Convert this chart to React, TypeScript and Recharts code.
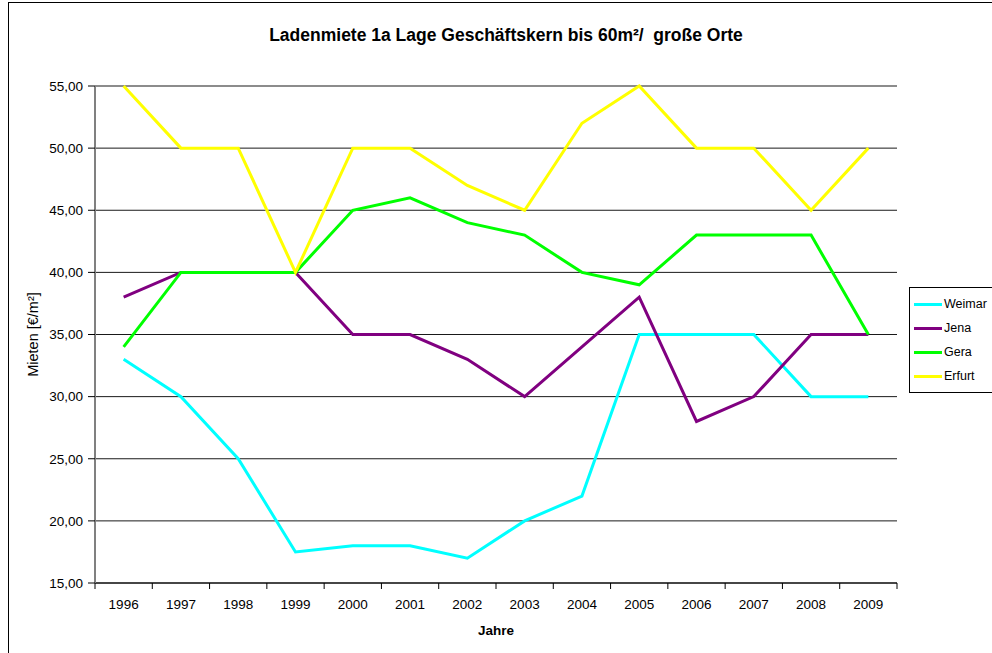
import React from 'react';
import {
    LineChart,
    Line,
    XAxis,
    YAxis,
    CartesianGrid,
    Legend,
    Label,
} from 'recharts';

// Jahre und Mieten (€/m²) je Ort
const YEARS = ['1996', '1997', '1998', '1999', '2000', '2001', '2002', '2003', '2004', '2005', '2006', '2007', '2008', '2009'];
const WEIMAR = [33, 30, 25, 17.5, 18, 18, 17, 20, 22, 35, 35, 35, 30, 30];
const JENA = [38, 40, 40, 40, 35, 35, 33, 30, 34, 38, 28, 30, 35, 35];
const GERA = [34, 40, 40, 40, 45, 46, 44, 43, 40, 39, 43, 43, 43, 35];
const ERFURT = [55, 50, 50, 40, 50, 50, 47, 45, 52, 55, 50, 50, 45, 50];
const Y_TICKS = [15, 20, 25, 30, 35, 40, 45, 50, 55];

const TITLE = 'Ladenmiete 1a Lage Geschäftskern bis 60m²/  große Orte';

const SERIES = [
    { key: 'Weimar', color: '#00FFFF' },
    { key: 'Jena', color: '#800080' },
    { key: 'Gera', color: '#00FF00' },
    { key: 'Erfurt', color: '#FFFF00' },
];

const data = YEARS.map((year, i) => ({
    year,
    Weimar: WEIMAR[i],
    Jena: JENA[i],
    Gera: GERA[i],
    Erfurt: ERFURT[i],
}));

const FONT = '"Liberation Sans", Arial, sans-serif';
const PLOT_LEFT = 95;
const PLOT_RIGHT = 897;
const BAND = (PLOT_RIGHT - PLOT_LEFT) / YEARS.length;

const fmt = (v: number) => v.toFixed(2).replace('.', ',');

// Excel-artige Ticks zwischen den Kategorien
const YearTick = (props: any) => {
    const { x, y, payload, index } = props;
    const half = BAND / 2;
    return (
        <g>
            <line x1={x - half} x2={x - half} y1={y} y2={y + 6} stroke="#000" />
            {index === YEARS.length - 1 && (
                <line x1={x + half} x2={x + half} y1={y} y2={y + 6} stroke="#000" />
            )}
            <text x={x} y={y + 26} textAnchor="middle" fontSize={13.5} fill="#000" fontFamily={FONT}>
                {payload.value}
            </text>
        </g>
    );
};

const LegendBox = () => (
    <div
        style={{
            border: '1px solid #000',
            background: '#fff',
            padding: '4px 0 4px 4px',
            fontFamily: FONT,
            fontSize: 12.5,
            width: 100,
            boxSizing: 'border-box',
        }}
    >
        {SERIES.map((s) => (
            <div key={s.key} style={{ display: 'flex', alignItems: 'center', height: 24 }}>
                <div style={{ width: 28, height: 3, background: s.color, marginRight: 2 }} />
                <span>{s.key}</span>
            </div>
        ))}
    </div>
);

export default function App() {
    return (
        <div style={{ position: 'absolute', left: 0, top: 0, width: 992, height: 653, overflow: 'hidden', background: '#fff' }}>
            <div
                style={{
                    position: 'absolute',
                    left: 8,
                    top: 2,
                    width: 1100,
                    height: 800,
                    border: '1px solid #000',
                }}
            />
            <div
                style={{
                    position: 'absolute',
                    left: 0,
                    width: 1012,
                    top: 25,
                    textAlign: 'center',
                    fontFamily: FONT,
                    fontWeight: 'bold',
                    fontSize: 17.5,
                    color: '#000',
                    whiteSpace: 'pre',
                }}
            >
                {TITLE}
            </div>
            <div style={{ position: 'absolute', left: 0, top: 0 }}>
                <LineChart
                    width={992}
                    height={653}
                    data={data}
                    margin={{ top: 86, right: 95, left: 8, bottom: 0 }}
                >
                    <CartesianGrid vertical={false} stroke="#000" strokeOpacity={0.9} />
                    <XAxis
                        dataKey="year"
                        height={70}
                        interval={0}
                        padding={{ left: BAND / 2, right: BAND / 2 }}
                        tickLine={false}
                        tickSize={0}
                        tickMargin={0}
                        axisLine={{ stroke: '#000' }}
                        tick={<YearTick />}
                    >
                        <Label
                            value="Jahre"
                            position="center"
                            dy={12}
                            style={{ fontFamily: FONT, fontWeight: 'bold', fontSize: 13.5, fill: '#000' }}
                        />
                    </XAxis>
                    <YAxis
                        width={87}
                        domain={[15, 55]}
                        ticks={Y_TICKS}
                        interval={0}
                        tickFormatter={fmt}
                        tickSize={7}
                        tickMargin={5}
                        tickLine={{ stroke: '#000' }}
                        axisLine={{ stroke: '#808080', strokeWidth: 2 }}
                        tick={{ fill: '#000', fontSize: 13.5, fontFamily: FONT }}
                    >
                        <Label
                            value="Mieten [€/m²]"
                            angle={-90}
                            position="center"
                            dx={-19}
                            style={{ fontFamily: FONT, fontSize: 14.5, fill: '#000' }}
                        />
                    </YAxis>
                    <YAxis
                        yAxisId="frame"
                        orientation="right"
                        width={0}
                        domain={[15, 55]}
                        tick={false}
                        tickLine={false}
                        axisLine={{ stroke: '#808080', strokeWidth: 2 }}
                    />
                    <Legend
                        layout="horizontal"
                        verticalAlign="middle"
                        content={<LegendBox />}
                        wrapperStyle={{ position: 'absolute', left: 909, top: 287, width: 100 }}
                    />
                    {SERIES.map((s) => (
                        <Line
                            key={s.key}
                            type="linear"
                            dataKey={s.key}
                            stroke={s.color}
                            strokeWidth={3}
                            dot={false}
                            activeDot={false}
                            isAnimationActive={false}
                        />
                    ))}
                </LineChart>
            </div>
        </div>
    );
}
